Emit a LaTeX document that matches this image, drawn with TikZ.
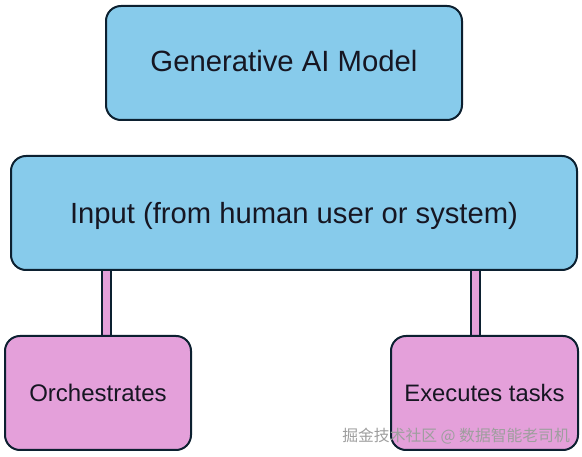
\documentclass[tikz,border=0pt]{standalone}
\usepackage{fontspec}
\setmainfont{Liberation Sans}
\newfontfamily\cjkfont{Noto Sans CJK SC}
\usetikzlibrary{calc,backgrounds}
\definecolor{boxblue}{RGB}{135,203,235}
\definecolor{boxpink}{RGB}{228,160,218}
\definecolor{edgecol}{RGB}{12,32,48}
\definecolor{txtcol}{RGB}{22,22,34}
\tikzset{
  box/.style={draw=edgecol, line width=2pt, rounded corners=15pt, inner sep=0pt, text=txtcol},
  bluebox/.style={box, fill=boxblue},
  pinkbox/.style={box, fill=boxpink},
  bar/.style={draw=edgecol, line width=1.8pt, double=boxpink, double distance=7.5pt},
}
\begin{document}
\begin{tikzpicture}[x=1pt,y=-1pt]
\useasboundingbox (0,0) rectangle (582,457);
\node[bluebox, minimum width=356pt, minimum height=114pt, text height=21.3pt, text depth=4pt, font=\fontsize{29.3}{33}\selectfont] (gen) at (284,63) {Generative AI Model};
\node[bluebox, minimum width=566pt, minimum height=114pt, text height=27.5pt, text depth=6.2pt, font=\fontsize{29.2}{33}\selectfont] (inp) at (294,213) {Input (from human user or system)};
\node[pinkbox, minimum width=186pt, minimum height=114pt, font=\fontsize{24}{28}\selectfont] (orch) at (98,393) {Orchestrates};
\node[pinkbox, minimum width=187pt, minimum height=114pt, font=\fontsize{23.8}{28}\selectfont] (exec) at (484.5,393) {Executes tasks};
\coordinate (l1) at ($(orch.north)+(8.5,0)$);
\coordinate (r1) at ($(exec.north)+(-9,0)$);
\begin{scope}[on background layer]
  \draw[bar] (l1 |- inp.south) -- (l1);
  \draw[bar] (r1 |- inp.south) -- (r1);
\end{scope}
\node[anchor=east, text=white!62!black, font=\cjkfont\fontsize{15.8}{18}\selectfont, inner sep=0pt] (wm) at (570,436) {掘金技术社区 @ 数据智能老司机};
\end{tikzpicture}
\end{document}
